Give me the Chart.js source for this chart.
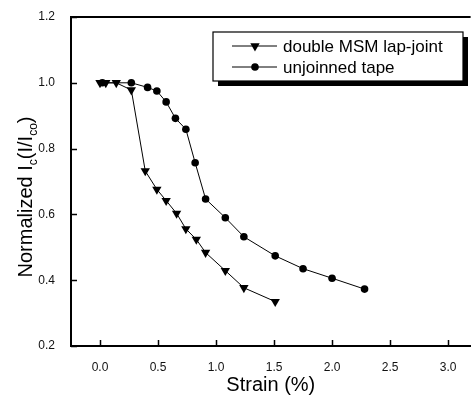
<!DOCTYPE html>
<html>
<head>
<meta charset="utf-8">
<script src="https://cdn.jsdelivr.net/npm/chart.js@4.4.1/dist/chart.umd.min.js"></script>
<style>
  html, body { margin: 0; padding: 0; background: #fff; overflow: hidden; }
</style>
</head>
<body>
<canvas id="chart" width="476" height="398"></canvas>
<script>
/* data */
const jointStrain = [0.0, 0.05, 0.14, 0.27, 0.39, 0.49, 0.57, 0.66, 0.74, 0.83, 0.91, 1.08, 1.24, 1.51];
const jointIc     = [1.0, 1.0, 1.0, 0.978, 0.732, 0.676, 0.642, 0.603, 0.556, 0.524, 0.484, 0.429, 0.377, 0.335];
const tapeStrain  = [0.02, 0.27, 0.41, 0.49, 0.57, 0.65, 0.74, 0.82, 0.91, 1.08, 1.24, 1.51, 1.75, 2.0, 2.28];
const tapeIc      = [1.0, 1.0, 0.986, 0.975, 0.942, 0.892, 0.859, 0.757, 0.647, 0.59, 0.532, 0.474, 0.435, 0.406, 0.373];
const xTicks = [0, 0.5, 1.0, 1.5, 2.0, 2.5, 3.0];
const yTicks = [0.2, 0.4, 0.6, 0.8, 1.0, 1.2];
const seriesNames = ['double MSM lap-joint', 'unjoinned tape'];

const FONT = "'Liberation Sans', Arial, Helvetica, sans-serif";

const pts = (xs, ys) => xs.map((x, i) => ({ x: x, y: ys[i] }));

function marker(ctx, kind, x, y) {
  ctx.beginPath();
  if (kind === 'tri') {
    const r = 5.4;
    ctx.moveTo(x - r * 0.866, y - r / 2);
    ctx.lineTo(x + r * 0.866, y - r / 2);
    ctx.lineTo(x, y + r);
    ctx.closePath();
  } else {
    ctx.arc(x, y, 3.8, 0, Math.PI * 2);
  }
  ctx.fill();
}

/* =======================
   frame, inward ticks, y title, legend
======================= */
const decor = {
  id: 'decor',
  afterDraw(chart) {
    const { ctx, chartArea: a, scales: { x, y } } = chart;
    ctx.save();
    ctx.strokeStyle = '#000';
    ctx.fillStyle = '#000';

    // top frame line
    ctx.lineWidth = 2;
    ctx.beginPath();
    ctx.moveTo(a.left - 1, a.top);
    ctx.lineTo(a.right, a.top);
    ctx.stroke();

    // inward ticks
    ctx.lineWidth = 1.5;
    ctx.beginPath();
    xTicks.forEach(v => {
      const px = Math.round(x.getPixelForValue(v)) + 0.5;
      ctx.moveTo(px, a.bottom);
      ctx.lineTo(px, a.bottom - 6);
    });
    yTicks.forEach(v => {
      const py = Math.round(y.getPixelForValue(v)) + 0.5;
      ctx.moveTo(a.left, py);
      ctx.lineTo(a.left + 6, py);
    });
    ctx.stroke();

    // y title with subscripts
    const parts = [
      ['Normalized I', 20, 0], ['c', 12, 5], ['(I/I', 20, 0], ['co', 12, 5], [')', 20, 0]
    ];
    let total = 0;
    parts.forEach(p => { ctx.font = p[1] + 'px ' + FONT; total += ctx.measureText(p[0]).width; });
    ctx.translate(32, 197);
    ctx.rotate(-Math.PI / 2);
    ctx.textBaseline = 'alphabetic';
    ctx.textAlign = 'left';
    let cx = -total / 2;
    parts.forEach(p => {
      ctx.font = p[1] + 'px ' + FONT;
      ctx.fillText(p[0], cx, p[2]);
      cx += ctx.measureText(p[0]).width;
    });
    ctx.setTransform(1, 0, 0, 1, 0, 0);

    // legend box with shadow
    const bx = 213, by = 32, bw = 250, bh = 49;
    ctx.fillRect(bx + 5, by + bh, bw, 5);
    ctx.fillRect(bx + bw, by + 5, 5, bh);
    ctx.fillStyle = '#fff';
    ctx.fillRect(bx, by, bw, bh);
    ctx.lineWidth = 1.2;
    ctx.strokeRect(bx, by, bw, bh);
    ctx.fillStyle = '#000';
    ctx.font = '17px ' + FONT;
    ctx.textBaseline = 'middle';
    const rows = [[46, 'tri'], [67, 'dot']];
    rows.forEach((r, i) => {
      ctx.lineWidth = 1;
      ctx.beginPath();
      ctx.moveTo(232, r[0]);
      ctx.lineTo(277, r[0]);
      ctx.stroke();
      marker(ctx, r[1], 255, r[0]);
      ctx.fillText(seriesNames[i], 283, r[0] + 1);
    });
    ctx.restore();
  }
};

new Chart(document.getElementById('chart'), {
  type: 'scatter',
  data: {
    datasets: [{
      label: seriesNames[0],
      data: pts(jointStrain, jointIc),
      showLine: true,
      borderColor: '#000',
      backgroundColor: '#000',
      borderWidth: 1,
      pointStyle: 'triangle',
      rotation: 180,
      pointRadius: 5.4,
      pointBorderWidth: 0
    }, {
      label: seriesNames[1],
      data: pts(tapeStrain, tapeIc),
      showLine: true,
      borderColor: '#000',
      backgroundColor: '#000',
      borderWidth: 1,
      pointStyle: 'circle',
      pointRadius: 3.8,
      pointBorderWidth: 0
    }]
  },
  options: {
    responsive: false,
    animation: false,
    layout: { padding: { top: 17, right: 0, left: 0, bottom: 0 } },
    plugins: { legend: { display: false }, tooltip: { enabled: false } },
    scales: {
      x: {
        type: 'linear',
        min: -0.25,
        max: 3.194,
        afterFit: s => { s.height = 52; },
        afterBuildTicks: s => { s.ticks = xTicks.map(v => ({ value: v })); },
        grid: { display: false },
        border: { display: true, color: '#000', width: 2 },
        ticks: {
          padding: 6,
          color: '#111',
          font: { family: FONT, size: 12 },
          callback: v => v.toFixed(1),
          maxRotation: 0
        },
        title: {
          display: true,
          text: 'Strain (%)',
          color: '#000',
          font: { family: FONT, size: 20 },
          padding: { top: 0, bottom: 1 }
        }
      },
      y: {
        min: 0.2,
        max: 1.2,
        afterFit: s => { s.width = 71; },
        afterBuildTicks: s => { s.ticks = yTicks.map(v => ({ value: v })); },
        grid: { display: false },
        border: { display: true, color: '#000', width: 2 },
        ticks: {
          padding: 8,
          color: '#111',
          font: { family: FONT, size: 12 },
          callback: v => v.toFixed(1)
        }
      }
    }
  },
  plugins: [decor]
});
</script>
</body>
</html>
